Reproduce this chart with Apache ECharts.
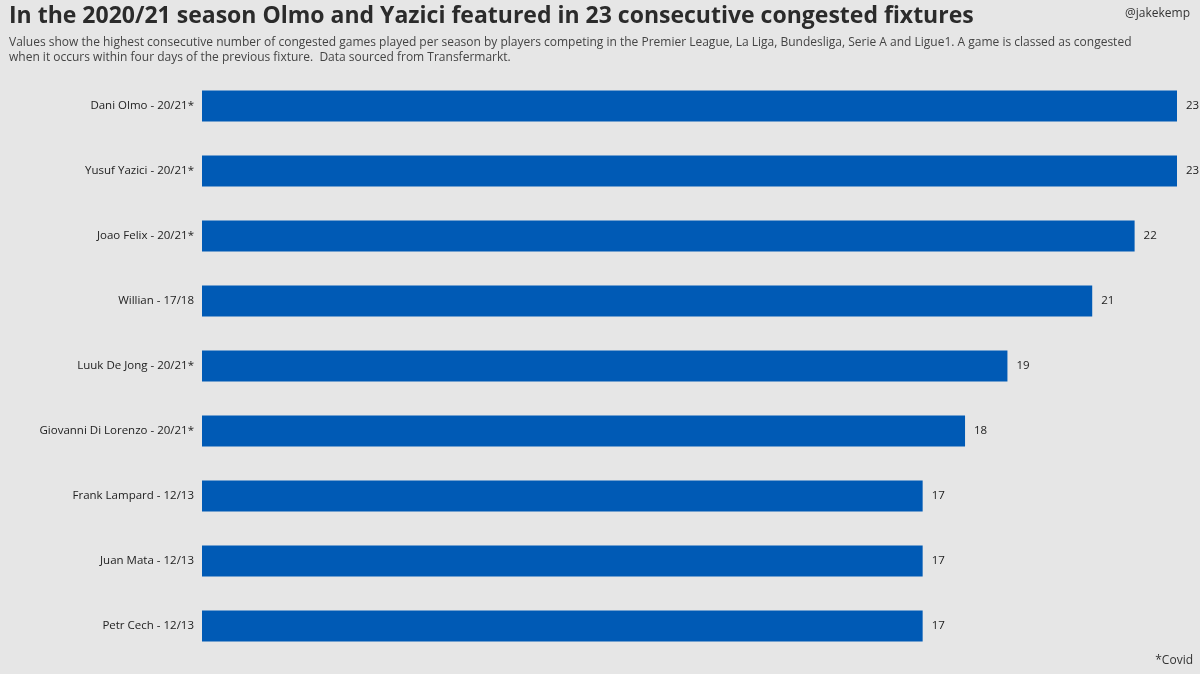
<!DOCTYPE html>
<html lang="en">
<head>
    <meta charset="UTF-8">
    <title>congested fixtures</title>
    <script src="https://cdn.jsdelivr.net/npm/echarts@6/dist/echarts.min.js"></script>
    <style>
        html, body { margin: 0; padding: 0; background: #e6e6e6; }
    </style>
</head>
<body>
<div id="main" style="width: 1200px;height:674px;"></div>
<script type="text/javascript">
    // players and their longest run of congested games
    var players = ['Dani Olmo - 20/21*', 'Yusuf Yazici - 20/21*', 'Joao Felix - 20/21*', 'Willian - 17/18',
        'Luuk De Jong - 20/21*', 'Giovanni Di Lorenzo - 20/21*', 'Frank Lampard - 12/13', 'Juan Mata - 12/13',
        'Petr Cech - 12/13'];
    var games = [23, 23, 22, 21, 19, 18, 17, 17, 17];

    var myChart = echarts.init(document.getElementById('main'));

    var option = {
        backgroundColor: '#e6e6e6',
        animation: false,
        title: [
            {
                text: 'In the 2020/21 season Olmo and Yazici featured in 23 consecutive congested fixtures',
                left: 4, top: 0,
                textStyle: { fontFamily: 'Open Sans', fontWeight: 'bold', fontSize: 23, color: '#2b2b2b' }
            },
            {
                text: 'Values show the highest consecutive number of congested games played per season by players competing in the Premier League, La Liga, Bundesliga, Serie A and Ligue1. A game is classed as congested\nwhen it occurs within four days of the previous fixture.  Data sourced from Transfermarkt.',
                left: 4, top: 30,
                textStyle: { fontFamily: 'Open Sans', fontWeight: 'normal', fontSize: 12, color: '#444', lineHeight: 15 }
            },
            {
                text: '@jakekemp',
                right: 5, top: 3,
                textStyle: { fontFamily: 'Open Sans', fontWeight: 'normal', fontSize: 12, color: '#333' }
            },
            {
                text: '*Covid',
                right: 2, top: 650,
                textStyle: { fontFamily: 'Open Sans', fontWeight: 'normal', fontSize: 12, color: '#333' }
            }
        ],
        grid: { left: 202, right: 23, top: 73.5, bottom: 15.5 },
        xAxis: {
            type: 'value',
            min: 0, max: 23,
            show: false
        },
        yAxis: {
            type: 'category',
            inverse: true,
            data: players,
            axisLine: { show: false },
            axisTick: { show: false },
            axisLabel: { fontFamily: 'Open Sans', fontSize: 11.5, color: '#222', margin: 8 }
        },
        series: [
            {
                type: 'bar',
                data: games,
                barWidth: 31,
                itemStyle: { color: '#005ab5' },
                label: {
                    show: true, position: 'right', distance: 9,
                    fontFamily: 'Open Sans', fontSize: 11.5, color: '#222'
                }
            }
        ]
    };

    myChart.setOption(option);
</script>
</body>
</html>
